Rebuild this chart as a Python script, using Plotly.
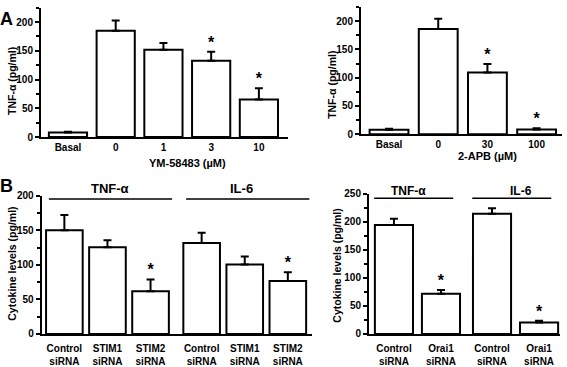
import plotly.graph_objects as go

W, H = 567, 367
FONT = "Liberation Sans, Arial, sans-serif"

# ---------------- data ----------------
ym_labels = ["Basal", "0", "1", "3", "10"]
ym_mean = [8, 185, 152, 133, 65.5]
ym_sem = [1.5, 18, 11.5, 15.5, 19.5]
ym_star = [False, False, False, True, True]

apb_labels = ["Basal", "0", "30", "100"]
apb_mean = [8, 186, 109, 8.5]
apb_sem = [1.5, 18, 15, 2]
apb_star = [False, False, True, True]

stim_labels = ["Control<br>siRNA", "STIM1<br>siRNA", "STIM2<br>siRNA"] * 2
stim_group = ["TNF-α"] * 3 + ["IL-6"] * 3
stim_mean = [150, 125.5, 62, 131.5, 100.5, 76.5]
stim_sem = [22, 10, 17, 15, 11.5, 13]
stim_star = [False, False, True, False, False, True]

orai_labels = ["Control<br>siRNA", "Orai1<br>siRNA"] * 2
orai_group = ["TNF-α"] * 2 + ["IL-6"] * 2
orai_mean = [194, 71.5, 214, 20.5]
orai_sem = [11, 7, 10, 3]
orai_star = [False, True, False, True]


def px_x(p):
    return p / W


def px_y(p):
    return 1 - p / H


def group_positions(groups, gap):
    pos, g, prev = [], 0, None
    for i, name in enumerate(groups):
        if prev is not None and name != prev:
            g += 1
        prev = name
        pos.append(i + g * gap)
    return pos


fig = go.Figure()


def add_panel(n, pos, mean, sem, star, width):
    xa = "x" if n == 1 else f"x{n}"
    ya = "y" if n == 1 else f"y{n}"
    fig.add_trace(go.Bar(
        x=pos, y=mean, width=width, xaxis=xa, yaxis=ya,
        marker=dict(color="white", line=dict(color="black", width=2)),
        error_y=dict(type="data", array=sem, arrayminus=[0] * len(sem),
                     symmetric=False, color="black", thickness=2, width=4),
        showlegend=False, hoverinfo="skip"))
    sx = [p for p, s in zip(pos, star) if s]
    sy = [m + e for m, e, s in zip(mean, sem, star) if s]
    fig.add_trace(go.Scatter(
        x=sx, y=sy, mode="text", text=["<b>*</b>"] * len(sx), textposition="top center",
        textfont=dict(size=16, color="black", family=FONT),
        xaxis=xa, yaxis=ya, showlegend=False, hoverinfo="skip"))


pos_ym = list(range(len(ym_labels)))
pos_apb = list(range(len(apb_labels)))
pos_stim = group_positions(stim_group, 0.186)
pos_orai = group_positions(orai_group, 0.085)

add_panel(1, pos_ym, ym_mean, ym_sem, ym_star, 0.8)
add_panel(2, pos_apb, apb_mean, apb_sem, apb_star, 0.79)
add_panel(3, pos_stim, stim_mean, stim_sem, stim_star, 0.85)
add_panel(4, pos_orai, orai_mean, orai_sem, orai_star, 0.81)

tickfont = dict(family=FONT, size=10, color="black", weight="bold")
xtickfont = dict(family=FONT, size=10, color="black", weight="bold")


def yax(dom, rng, dtick):
    return dict(domain=dom, range=rng, showline=True, linewidth=2, linecolor="black",
                ticks="outside", ticklen=4, tickwidth=1.5, tickcolor="black",
                dtick=dtick, tick0=0, showgrid=False, zeroline=False,
                tickfont=tickfont, fixedrange=True,
                minor=dict(dtick=dtick / 2, ticks="outside", ticklen=3,
                           tickwidth=1.5, tickcolor="black", showgrid=False))


def xax(dom, rng, pos, labels, anchor, standoff=0):
    return dict(domain=dom, range=rng, showline=True, linewidth=2, linecolor="black",
                ticks="", tickvals=pos, ticktext=labels, showgrid=False,
                zeroline=False, tickfont=xtickfont, anchor=anchor, fixedrange=True,
                ticklabelstandoff=standoff)


fig.update_layout(
    width=W, height=H, margin=dict(l=0, r=0, t=0, b=0),
    paper_bgcolor="white", plot_bgcolor="white",
    font=dict(family=FONT, color="black"),
    xaxis=xax([px_x(41), px_x(288)], [-0.565, 4.61], pos_ym, ym_labels, "y"),
    yaxis=yax([px_y(136.3), px_y(1.8)], [0, 225], 50),
    xaxis2=xax([px_x(361), px_x(561.7)], [-0.57, 3.51], pos_apb, apb_labels, "y2"),
    yaxis2=dict(yax([px_y(133.3), px_y(1.0)], [0, 225], 50), anchor="x2"),
    xaxis3=xax([px_x(41.7), px_x(311.7)], [-0.526, 5.74], pos_stim, stim_labels, "y3", 4),
    yaxis3=dict(yax([px_y(341), px_y(197.3)], [0, 200], 50), anchor="x3"),
    xaxis4=xax([px_x(369), px_x(560)], [-0.53, 3.53], pos_orai, orai_labels, "y4", 4),
    yaxis4=dict(yax([px_y(341), px_y(195)], [0, 250], 50), anchor="x4"),
)
fig.layout.yaxis.anchor = "x"

ann = []


def text_ann(txt, x, y, size, rot=0, xref="paper", weight="normal"):
    ann.append(dict(text=txt, x=x, y=y, xref=xref, yref="paper", showarrow=False,
                    xanchor="center", yanchor="middle", textangle=rot,
                    font=dict(family=FONT, size=size, color="black", weight=weight)))


# panel letters
text_ann("A", px_x(6.5), px_y(14), 18, weight="bold")
text_ann("B", px_x(6.5), px_y(187.5), 18, weight="bold")

# y titles
text_ann("TNF-α (pg/ml)", px_x(12), px_y(78), 10.5, -90, weight="bold")
text_ann("TNF-α (pg/ml)", px_x(332), px_y(82), 10.5, -90, weight="bold")
text_ann("Cytokine levels (pg/ml)", px_x(12), px_y(268), 10.5, -90, weight="bold")
text_ann("Cytokine levels (pg/ml)", px_x(337), px_y(270), 10.5, -90, weight="bold")

# x titles (centered over treatment bars)
text_ann("YM-58483 (µM)", sum(pos_ym[1:]) / len(pos_ym[1:]), px_y(163), 11, xref="x", weight="bold")
text_ann("2-APB (µM)", sum(pos_apb[1:]) / len(pos_apb[1:]), px_y(156), 11, xref="x2", weight="bold")

shapes = []


def group_bars(xref, pos, groups, ly, ty, size, lpad, rpad, tshift):
    names = []
    for g in groups:
        if g not in names:
            names.append(g)
    for k, name in enumerate(names):
        gp = [p for p, g in zip(pos, groups) if g == name]
        x0, x1 = gp[0] - lpad, gp[-1] + rpad
        shapes.append(dict(type="line", xref=xref, yref="paper", x0=x0, x1=x1,
                           y0=px_y(ly), y1=px_y(ly), line=dict(color="black", width=1.5)))
        text_ann(name, (x0 + x1) / 2 + tshift[k], px_y(ty), size, xref=xref, weight="bold")


group_bars("x3", pos_stim, stim_group, 200.7, 190, 13, 0.36, 0.5, [0, -0.15])
group_bars("x4", pos_orai, orai_group, 200, 192, 12, 0.42, 0.26, [-0.1, 0.2])

fig.update_layout(annotations=ann, shapes=shapes)
fig.write_html("out.html", config={"displayModeBar": False},
               post_script="document.body.style.margin='0';")
